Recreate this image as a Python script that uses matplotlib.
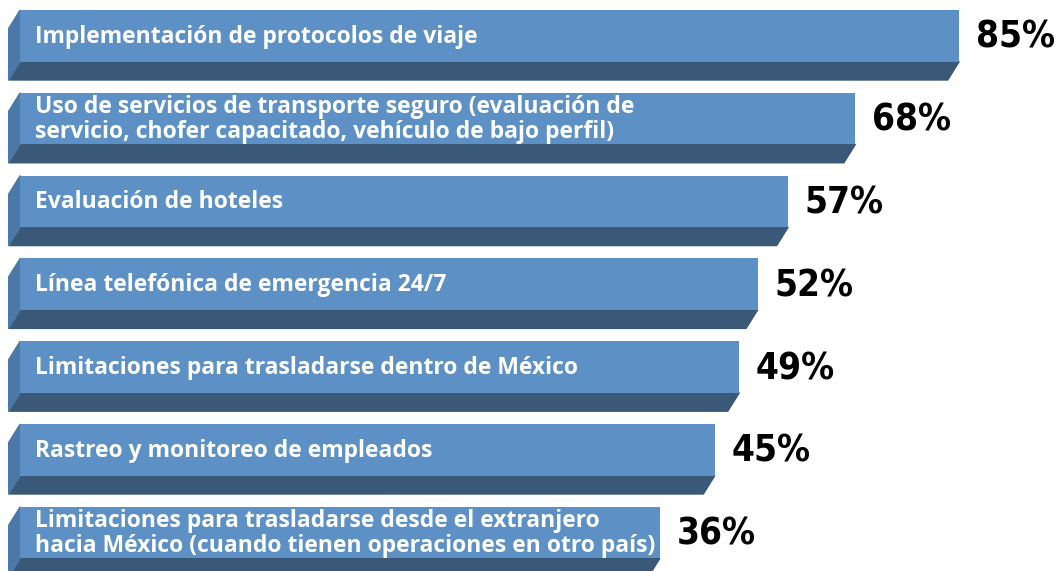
import matplotlib.pyplot as plt
from matplotlib.patches import Polygon

etiquetas = [
    "Implementación de protocolos de viaje",
    "Uso de servicios de transporte seguro (evaluación de\nservicio, chofer capacitado, vehículo de bajo perfil)",
    "Evaluación de hoteles",
    "Línea telefónica de emergencia 24/7",
    "Limitaciones para trasladarse dentro de México",
    "Rastreo y monitoreo de empleados",
    "Limitaciones para trasladarse desde el extranjero\nhacia México (cuando tienen operaciones en otro país)",
]
valores = [85, 68, 57, 52, 49, 45, 36]

# estilo
color_frente = "#5d91c6"
color_abajo = "#3a5877"
color_lado = "#4b78a6"
origen = -68.7      # donde empiezan las barras (escala no proporcional)
alto = 0.622        # alto de la cara frontal
dx, dy = -1.88, 0.223  # profundidad del efecto 3D

fig = plt.figure(figsize=(10.57, 5.71), dpi=100)
ax = fig.add_axes([0, 0, 1, 1])
ax.set_xlim(-72, 101)
ax.set_ylim(6.464, -0.432)
ax.axis("off")

ys = list(range(len(valores)))
ax.barh(ys, [v - origen for v in valores], left=origen, height=alto,
        color=color_frente, zorder=3)

for y, v, txt in zip(ys, valores, etiquetas):
    arriba = y - alto / 2
    abajo = y + alto / 2
    # cara inferior
    ax.add_patch(Polygon([(origen, abajo), (v, abajo), (v + dx, abajo + dy),
                          (origen + dx, abajo + dy)], closed=True,
                         color=color_abajo, zorder=2))
    # cara izquierda
    ax.add_patch(Polygon([(origen, arriba), (origen, abajo),
                          (origen + dx, abajo + dy), (origen + dx, arriba + dy)],
                         closed=True, color=color_lado, zorder=2))
    ax.text(origen + 2.45, y + 0.01, txt, color="white", fontsize=16.5,
            fontweight="bold", family="Open Sans", va="center", ha="left",
            linespacing=1.05, zorder=4)
    ax.text(v + 2.7, y + 0.02, f"{v}%", color="black", fontsize=26.5,
            fontweight="bold", fontstretch="condensed", family="DejaVu Sans",
            va="center", ha="left", zorder=4)

fig.savefig("out.png", dpi=100)
